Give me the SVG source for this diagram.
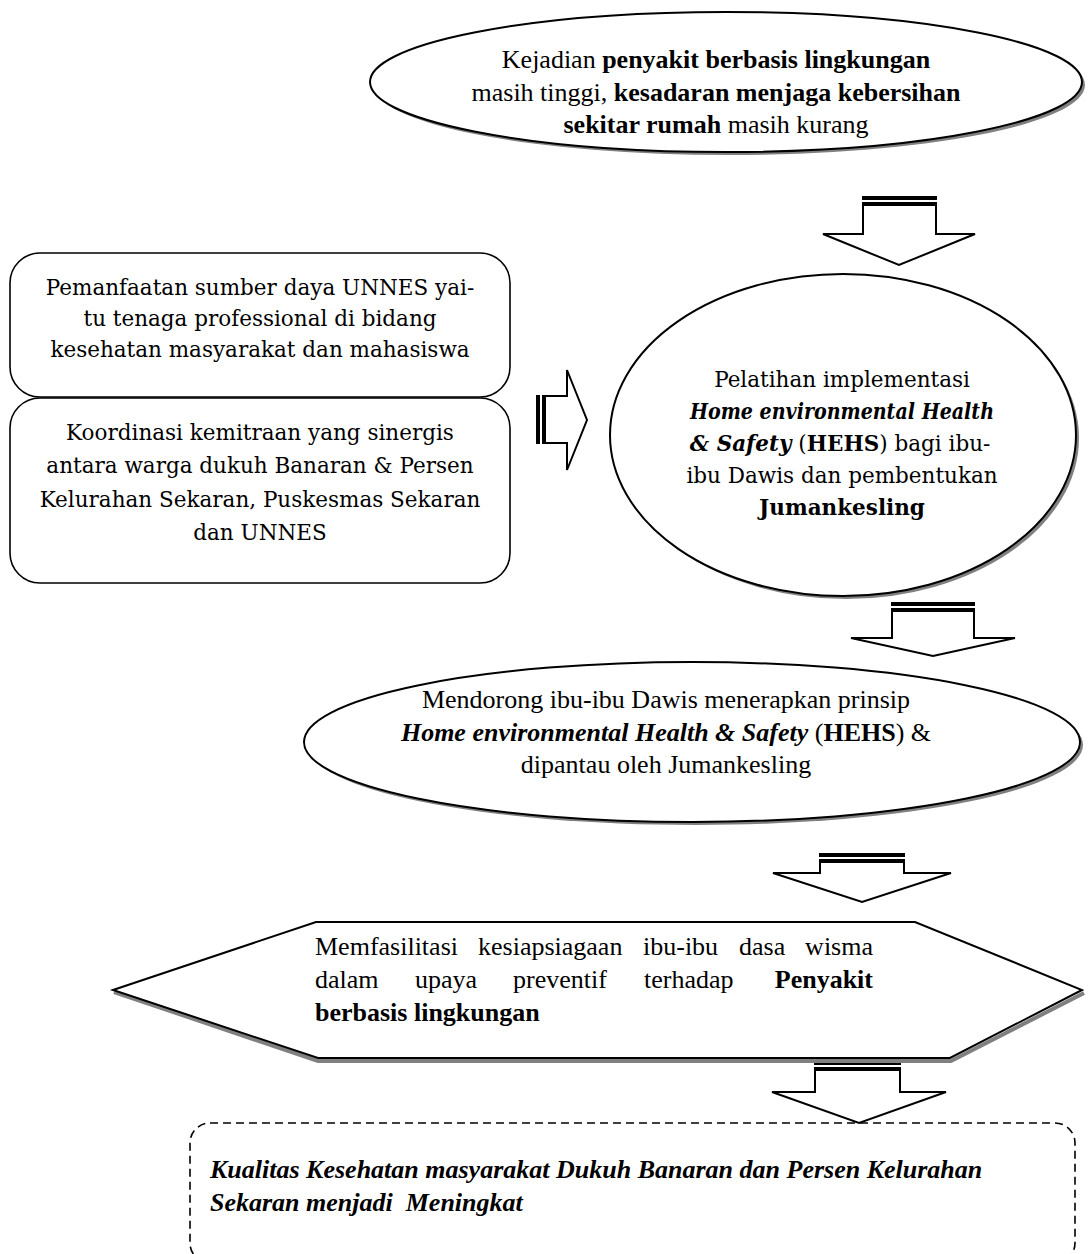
<svg xmlns="http://www.w3.org/2000/svg" width="1088" height="1254" viewBox="0 0 1088 1254">
<style>
.shape{fill:#fff;stroke:#000;stroke-width:2}
.shadow{fill:#808080;stroke:none}
.box{fill:#fff;stroke:#000;stroke-width:1.6}
.arrow{fill:#fff;stroke:#000;stroke-width:2;stroke-linejoin:miter}
.bar{fill:#000}
.t{font-family:"Liberation Serif","Times New Roman",serif;font-size:26px;fill:#000}
.c{font-family:"DejaVu Serif","Liberation Serif",serif;font-size:21.5px;fill:#000}
.b{font-weight:bold}
.i{font-style:italic}
.dash{fill:none;stroke:#000;stroke-width:1.6;stroke-dasharray:8 5}
</style>
<rect width="1088" height="1254" fill="#fff"/>

<g id="node-problem">
<ellipse class="shadow" cx="729" cy="85" rx="356" ry="70"/>
<ellipse class="shape" cx="726" cy="82" rx="356" ry="70"/>
<text class="t" text-anchor="middle" x="716" y="68">Kejadian <tspan class="b">penyakit berbasis lingkungan</tspan></text>
<text class="t" text-anchor="middle" x="716" y="101">masih tinggi, <tspan class="b">kesadaran menjaga kebersihan</tspan></text>
<text class="t" text-anchor="middle" x="716" y="133"><tspan class="b">sekitar rumah</tspan> masih kurang</text>
</g>

<g id="node-resource">
<rect class="box" x="10" y="253" width="500" height="144" rx="30" ry="30"/>
<text class="c" text-anchor="middle" x="260" y="295">Pemanfaatan sumber daya UNNES yai-</text>
<text class="c" text-anchor="middle" x="260" y="326">tu tenaga professional di bidang</text>
<text class="c" text-anchor="middle" x="260" y="357">kesehatan masyarakat dan mahasiswa</text>
</g>

<g id="node-partnership">
<rect class="box" x="10" y="398" width="500" height="185" rx="30" ry="30"/>
<text class="c" text-anchor="middle" x="260" y="440">Koordinasi kemitraan yang sinergis</text>
<text class="c" text-anchor="middle" x="260" y="473">antara warga dukuh Banaran &amp; Persen</text>
<text class="c" text-anchor="middle" x="260" y="507">Kelurahan Sekaran, Puskesmas Sekaran</text>
<text class="c" text-anchor="middle" x="260" y="540">dan UNNES</text>
</g>

<g id="node-training">
<ellipse class="shadow" cx="846" cy="438" rx="233" ry="161"/>
<ellipse class="shape" cx="843" cy="435" rx="233" ry="161"/>
<text class="c" text-anchor="middle" x="842" y="387" font-size="22">Pelatihan implementasi</text>
<text class="c b i" text-anchor="middle" x="842" y="419" font-size="22" textLength="304" lengthAdjust="spacingAndGlyphs">Home environmental Health</text>
<text class="c" text-anchor="middle" x="840" y="451" font-size="22"><tspan class="b i">&amp; Safety</tspan> (<tspan class="b">HEHS</tspan>) bagi ibu-</text>
<text class="c" text-anchor="middle" x="842" y="483" font-size="22">ibu Dawis dan pembentukan</text>
<text class="c b" text-anchor="middle" x="842" y="515" font-size="22">Jumankesling</text>
</g>

<g id="node-encourage">
<ellipse class="shadow" cx="695" cy="745" rx="388" ry="80"/>
<ellipse class="shape" cx="692" cy="742" rx="388" ry="80"/>
<text class="t" text-anchor="middle" x="666" y="708">Mendorong ibu-ibu Dawis menerapkan prinsip</text>
<text class="t" text-anchor="middle" x="666" y="741"><tspan class="b i">Home environmental Health &amp; Safety</tspan> (<tspan class="b">HEHS</tspan>) &amp;</text>
<text class="t" text-anchor="middle" x="666" y="773">dipantau oleh Jumankesling</text>
</g>

<g id="node-facilitate">
<polyline points="114,992 318,1061 951,1061 1084,993" fill="none" stroke="#808080" stroke-width="4"/>
<polygon class="shape" points="113,990 316,922 915,922 1082,990 950,1058 318,1058"/>
<text class="t" y="955"><tspan x="315">Memfasilitasi</tspan><tspan x="478">kesiapsiagaan</tspan><tspan x="643">ibu-ibu</tspan><tspan x="739">dasa</tspan></text>
<text class="t" x="873" y="955" text-anchor="end">wisma</text>
<text class="t" y="988"><tspan x="315">dalam</tspan><tspan x="415">upaya</tspan><tspan x="513">preventif</tspan><tspan x="644">terhadap</tspan></text>
<text class="t b" x="873" y="988" text-anchor="end">Penyakit</text>
<text class="t b" x="315" y="1021">berbasis lingkungan</text>
</g>

<g id="node-outcome">
<rect class="dash" x="190" y="1123" width="885" height="140" rx="20" ry="20"/>
<text class="t b i" x="210" y="1178">Kualitas Kesehatan masyarakat Dukuh Banaran dan Persen Kelurahan</text>
<text class="t b i" x="210" y="1211" xml:space="preserve">Sekaran menjadi  Meningkat</text>
</g>

<g id="connectors">
<g id="arrow-1">
<polygon class="arrow" points="863,205 936,205 936,234 975,234 899,265 823,234 863,234"/>
<rect class="bar" x="862" y="196" width="75" height="4"/>
<rect class="bar" x="862" y="202" width="75" height="4"/>
</g>
<g id="arrow-right">
<polygon class="arrow" points="545,396 567,396 567,370 587,420 567,470 567,443 545,443"/>
<rect class="bar" x="536" y="395" width="4" height="49"/>
<rect class="bar" x="542" y="395" width="4" height="49"/>
</g>
<g id="arrow-2">
<polygon class="arrow" points="892,611 974,611 974,638 1015,638 933,656 851,638 892,638"/>
<rect class="bar" x="891" y="602" width="84" height="4"/>
<rect class="bar" x="891" y="608" width="84" height="4"/>
</g>
<g id="arrow-3">
<polygon class="arrow" points="820,862 904,862 904,873 951,873 862,902 773,873 820,873"/>
<rect class="bar" x="819" y="853" width="86" height="4"/>
<rect class="bar" x="819" y="859" width="86" height="4"/>
</g>
<g id="arrow-4">
<polygon class="arrow" points="815,1070 900,1070 900,1092 946,1092 859,1123 772,1092 815,1092"/>
<rect class="bar" x="814" y="1063" width="87" height="2"/>
<rect class="bar" x="814" y="1067" width="87" height="2"/>
</g>
</g>
</svg>
